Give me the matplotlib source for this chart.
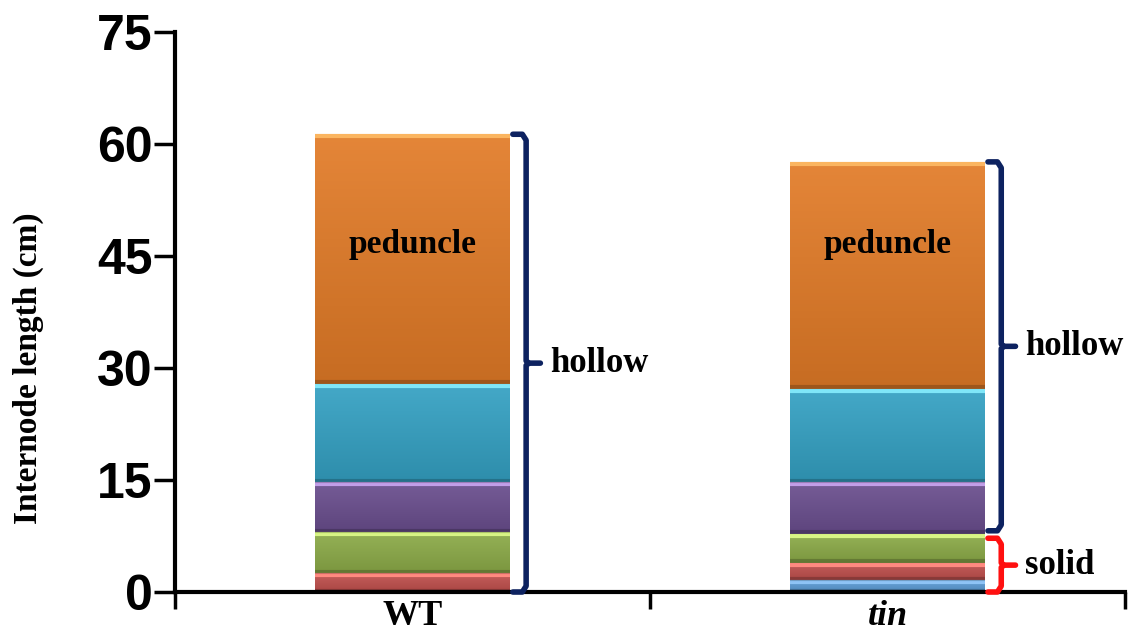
import numpy as np
import matplotlib
matplotlib.use("Agg")
import matplotlib.pyplot as plt
from matplotlib.colors import to_rgb

# data (cm), segments from bottom to top
lines = ["WT", "tin"]
blue = [0.0, 1.6]
red = [2.5, 2.3]
green = [5.5, 3.9]
purple = [6.7, 6.9]
cyan = [13.2, 12.5]
orange = [33.4, 30.4]
segments = [blue, red, green, purple, cyan, orange]

seg_colors = ["#5B9BD5", "#C0504D", "#8CAB48", "#6A4E8E", "#34A1C3", "#E27B27"]
seg_light = ["#8EC3F5", "#FF8A80", "#D8F585", "#C29EE8", "#7FE6F8", "#FBB560"]


def shade(c, f):
    c = np.array(to_rgb(c))
    if f > 0:
        return c + (1 - c) * f
    return c * (1 + f)


fig = plt.figure(figsize=(11.38, 6.43), dpi=100)
ax = fig.add_axes([0.1538, 0.0793, 0.835, 0.871])

x = np.arange(len(lines))
w = 0.41
bottom = np.zeros(len(lines))
for vals, c, lc in zip(segments, seg_colors, seg_light):
    vals = np.array(vals)
    bars = ax.bar(x, vals, w, bottom=bottom, color=c, edgecolor="none", zorder=2)
    for p, xi, b, v in zip(bars, x, bottom, vals):
        if v <= 0:
            continue
        # vertical gradient, lighter on top
        t = np.linspace(0, 1, 64)[:, None]
        top, bot = shade(c, 0.08), shade(c, -0.12)
        img = (bot[None, :] * (1 - t) + top[None, :] * t)[:, None, :]
        im = ax.imshow(img, extent=(xi - w / 2, xi + w / 2, b, b + v),
                       origin="lower", aspect="auto", zorder=2.5)
        im.set_clip_path(p)
        # bevel-ish highlights
        ax.plot([xi - w / 2, xi + w / 2], [b + v - 0.25, b + v - 0.25],
                color=lc, lw=3, solid_capstyle="butt", zorder=3)
        ax.plot([xi - w / 2, xi + w / 2], [b + 0.2, b + 0.2],
                color="black", alpha=0.2, lw=3, solid_capstyle="butt", zorder=3)
    bottom = bottom + vals

totals = bottom
for xi in x:
    ax.text(xi, 46.5, "peduncle", ha="center", va="center",
            fontsize=24, fontweight="bold", family="Liberation Serif", zorder=4)


def bracket(xc, y0, y1, color, label):
    x0 = xc + w / 2 + 0.006
    xv = xc + w / 2 + 0.034
    r = 0.8
    ym = (y0 + y1) / 2
    xs = [x0, xv - 0.008, xv, xv, xv + 0.006, xv + 0.03]
    ys = [y1, y1, y1 - r, ym + 0.3, ym, ym]
    ax.plot(xs, ys, color=color, lw=4, solid_capstyle="round",
            solid_joinstyle="round", clip_on=False, zorder=4)
    xs = [xv + 0.006, xv, xv, xv - 0.008, x0]
    ys = [ym, ym - 0.3, y0 + r, y0, y0]
    ax.plot(xs, ys, color=color, lw=4, solid_capstyle="round",
            solid_joinstyle="round", clip_on=False, zorder=4)
    ax.text(xv + 0.05, ym, label, ha="left", va="center", fontsize=25,
            fontweight="bold", family="Liberation Serif")


solid_top = blue[1] + red[1] + green[1]
bracket(x[0], 0, totals[0], "#0D2260", "hollow")
bracket(x[1], solid_top + 0.4, totals[1], "#0D2260", "hollow")
bracket(x[1], 0, solid_top - 0.6, "#FF1010", "solid")

ax.set_xlim(-0.5, 1.5)
ax.set_ylim(0, 75)
ax.set_yticks([0, 15, 30, 45, 60, 75])
ax.set_yticklabels(["0", "15", "30", "45", "60", "75"], fontsize=36,
                   fontweight="bold", family="Liberation Sans")
ax.set_xticks([-0.5, 0.5, 1.5])
ax.set_xticklabels([])
ax.set_xticks(x, minor=True)
ax.set_xticklabels(["WT", "tin"], minor=True, fontsize=26, fontweight="bold",
                   family="Liberation Serif")
ax.get_xticklabels(minor=True)[1].set_style("italic")
ax.tick_params(axis="x", which="minor", length=0, pad=6)
ax.tick_params(axis="x", which="major", length=12, width=2.5, direction="out")
ax.tick_params(axis="y", length=15, width=2.5, direction="out", pad=1)

for s in ["top", "right"]:
    ax.spines[s].set_visible(False)
ax.spines["left"].set_linewidth(3)
ax.spines["bottom"].set_linewidth(3)

ax.set_ylabel("Internode length (cm)", fontsize=24, fontweight="bold",
              family="Liberation Serif")
ax.yaxis.set_label_coords(-0.138, 0.40)

fig.savefig("out.png", dpi=100)
